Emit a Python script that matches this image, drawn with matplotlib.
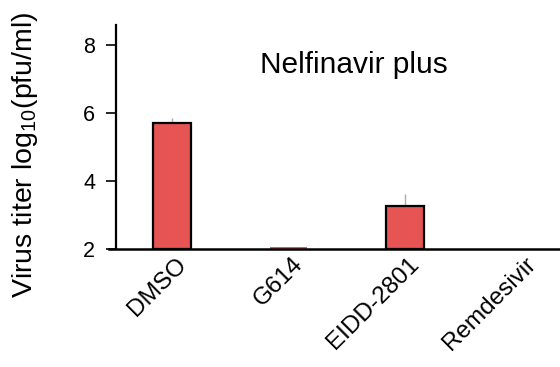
import numpy as np
import matplotlib
matplotlib.use("Agg")
import matplotlib.pyplot as plt
from matplotlib.transforms import ScaledTranslation

plt.rcParams['font.family'] = ['Liberation Sans', 'DejaVu Sans']
plt.rcParams['mathtext.fontset'] = 'custom'
plt.rcParams['mathtext.rm'] = 'Liberation Sans'
plt.rcParams['mathtext.it'] = 'Liberation Sans:italic'

# 病毒滴度 (log10 pfu/ml)，Nelfinavir 联合用药
treatments = ["DMSO", "G614", "EIDD-2801", "Remdesivir"]
titer_mean = [5.7, 2.05, 3.27, 2.0]
titer_err = [0.15, 0.0, 0.35, 0.0]

fig = plt.figure(figsize=(5.6, 3.67), dpi=100)
ax = fig.add_axes([0.207, 0.3215, 0.793, 0.6105])

x = np.arange(len(treatments))
base = 2.0
heights = np.array(titer_mean) - base
# 高度接近零的柱子不画黑边
edge_w = [1.6 if h > 0.2 else 0 for h in heights]
ax.bar(x, heights, bottom=base, width=0.32, color="#E65454",
       edgecolor="black", linewidth=edge_w, zorder=2)
ax.errorbar(x, titer_mean, yerr=[np.zeros(len(x)), titer_err], fmt="none",
            ecolor="#AAAAAA", elinewidth=1.0, capsize=0, zorder=1)

ax.set_ylim(2, 8.59)
ax.set_xlim(-0.48, 3.33)
ax.set_yticks([2, 4, 6, 8])
ax.set_xticks(x)
ax.set_xticklabels(treatments, rotation=45, ha="right", rotation_mode="anchor")
ax.tick_params(axis="y", labelsize=15.5, width=1.2, length=7, direction="out", pad=8)
ax.tick_params(axis="x", labelsize=17.5, length=0, pad=3)
shift = ScaledTranslation(3 / 100, 0, fig.dpi_scale_trans)
for lab in ax.get_xticklabels():
    lab.set_transform(lab.get_transform() + shift)

for s in ["top", "right"]:
    ax.spines[s].set_visible(False)
ax.spines["left"].set_linewidth(1.6)
ax.spines["bottom"].set_linewidth(1.8)
ax.spines["bottom"].set_bounds(-0.54, 3.33)

fig.text(25 / 560, 1 - 155 / 367, r"Virus titer log$_{10}$(pfu/ml)",
         rotation=90, ha="center", va="center", fontsize=20.5)
ax.text(0.535, 0.82, "Nelfinavir plus", transform=ax.transAxes,
        ha="center", va="center", fontsize=21.5)

fig.savefig("out.png", dpi=100)
